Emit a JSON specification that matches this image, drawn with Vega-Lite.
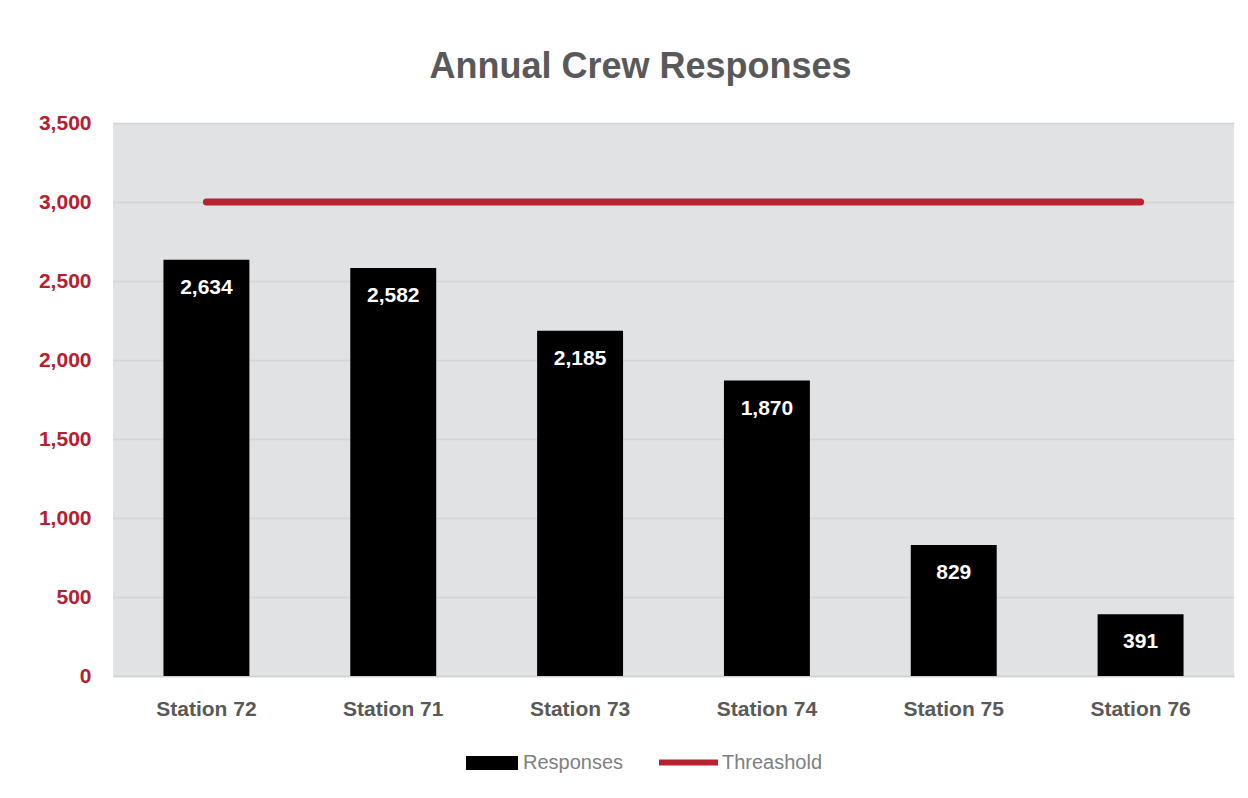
{
  "$schema": "https://vega.github.io/schema/vega-lite/v6.json",
  "autosize": "none",
  "width": 1121,
  "height": 553,
  "padding": {"left": 113, "top": 123, "right": 14, "bottom": 122},
  "background": "#ffffff",
  "title": {
    "text": "Annual Crew Responses",
    "fontSize": 36,
    "fontWeight": "bold",
    "font": "Liberation Sans",
    "color": "#595959",
    "anchor": "middle",
    "dx": -33,
    "offset": 26
  },
  "config": {
    "view": {"fill": "#e1e2e4", "stroke": null},
    "font": "Liberation Sans"
  },
  "data": {
    "values": [
      {"station": "Station 72", "responses": 2634, "threshold": 3000, "s1": "Responses", "s2": "Threashold"},
      {"station": "Station 71", "responses": 2582, "threshold": 3000, "s1": "Responses", "s2": "Threashold"},
      {"station": "Station 73", "responses": 2185, "threshold": 3000, "s1": "Responses", "s2": "Threashold"},
      {"station": "Station 74", "responses": 1870, "threshold": 3000, "s1": "Responses", "s2": "Threashold"},
      {"station": "Station 75", "responses": 829, "threshold": 3000, "s1": "Responses", "s2": "Threashold"},
      {"station": "Station 76", "responses": 391, "threshold": 3000, "s1": "Responses", "s2": "Threashold"}
    ]
  },
  "encoding": {
    "x": {
      "field": "station",
      "type": "nominal",
      "sort": null,
      "scale": {"paddingInner": 0.54, "paddingOuter": 0.27},
      "axis": {
        "title": null,
        "labelAngle": 0,
        "labelFontSize": 21,
        "labelFontWeight": "bold",
        "labelColor": "#595959",
        "labelPadding": 22,
        "ticks": false,
        "domain": true,
        "domainColor": "#d0d1d3",
        "domainWidth": 1.5
      }
    }
  },
  "layer": [
    {
      "mark": {"type": "bar", "color": "#000000"},
      "encoding": {
        "y": {
          "field": "responses",
          "type": "quantitative",
          "scale": {"domain": [0, 3500]},
          "axis": {
            "title": null,
            "values": [0, 500, 1000, 1500, 2000, 2500, 3000, 3500],
            "format": ",d",
            "labelFontSize": 21,
            "labelFontWeight": "bold",
            "labelColor": "#b5202e",
            "labelPadding": 22,
            "ticks": false,
            "domain": false,
            "gridColor": "#d3d4d6",
            "gridWidth": 1.5
          }
        },
        "fill": {
          "field": "s1",
          "type": "nominal",
          "scale": {"range": ["#000000"]},
          "legend": {
            "title": null,
            "orient": "none",
            "legendX": 353,
            "legendY": 614,
            "symbolType": "M-1,-0.27H1V0.27H-1Z",
            "symbolSize": 2704,
            "symbolStrokeWidth": 0,
            "labelFontSize": 20,
            "labelColor": "#808080",
            "labelOffset": 5
          }
        }
      }
    },
    {
      "mark": {"type": "text", "color": "#ffffff", "fontSize": 21, "fontWeight": "bold", "baseline": "middle", "dy": 28},
      "encoding": {
        "y": {"field": "responses", "type": "quantitative"},
        "text": {"field": "responses", "type": "quantitative", "format": ",d"}
      }
    },
    {
      "mark": {"type": "line", "strokeWidth": 7, "strokeCap": "round"},
      "encoding": {
        "y": {"field": "threshold", "type": "quantitative"},
        "stroke": {
          "field": "s2",
          "type": "nominal",
          "scale": {"range": ["#b92231"]},
          "legend": {
            "title": null,
            "orient": "none",
            "legendX": 543,
            "legendY": 607,
            "symbolType": "stroke",
            "symbolSize": 3481,
            "symbolStrokeWidth": 6,
            "labelFontSize": 20,
            "labelColor": "#808080",
            "labelOffset": 1
          }
        }
      }
    }
  ],
  "resolve": {"scale": {"fill": "independent", "stroke": "independent"}}
}
